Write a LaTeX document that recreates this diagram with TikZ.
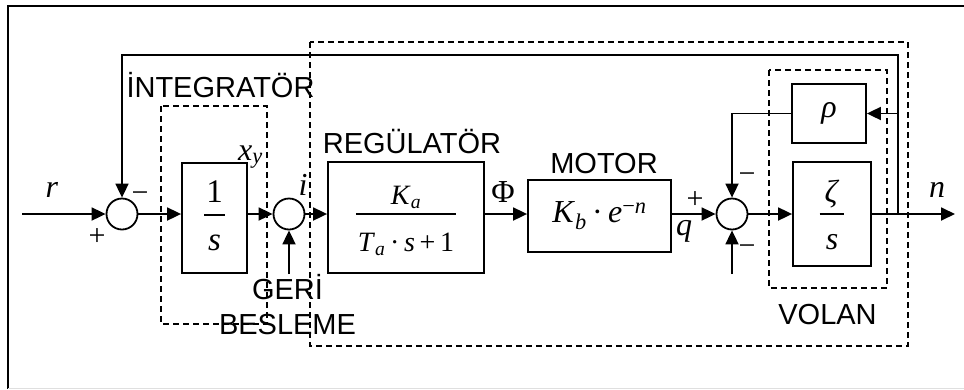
\documentclass[tikz,border=0pt]{standalone}
\usepackage{fontspec}
\setmainfont{Liberation Serif}
\newfontfamily\sansf{Liberation Sans}
\usetikzlibrary{arrows.meta}
\newcommand\vi[1]{\textit{#1}}
% #1 num, #2 den, #3 num height, #4 num depth, #5 den height, #6 den depth, #7 side pad
\newcommand\ffrac[7]{\begingroup\renewcommand\arraystretch{0.1}\setlength\arrayrulewidth{1.3pt}%
\begin{tabular}{@{\hspace{#7}}c@{\hspace{#7}}}\rule[-#4]{0pt}{\dimexpr#3+#4\relax}#1\\\hline\rule[-#6]{0pt}{\dimexpr#5+#6\relax}#2\end{tabular}\endgroup}
\tikzset{
  blk/.style={draw, line width=1.8pt, inner sep=0pt},
  sumc/.style={draw, circle, line width=1.8pt, minimum size=31pt, inner sep=0pt},
  arr/.style={line width=1.8pt, -{Triangle[length=14pt,width=13pt]}},
  ln/.style={line width=1.8pt},
  dsh/.style={line width=1.5pt, dash pattern=on 6pt off 4pt},
  lbl/.style={inner sep=0pt, anchor=base, font=\sansf\fontsize{29}{34}\selectfont},
  var/.style={inner sep=0pt, anchor=base, font=\fontsize{32}{38}\selectfont},
  sgn/.style={inner sep=0pt, font=\fontsize{30}{36}\selectfont},
}
\begin{document}
\begin{tikzpicture}[x=1pt,y=-1pt]
\useasboundingbox (0,0) rectangle (964,389);
% outer frame (partly cut)
\draw[line width=2.5pt] (964,6) -- (8,6) -- (8,389);
\draw[gray!25, line width=1pt] (8,388) -- (964,388);
% dashed groups
\draw[dsh] (161,106) rectangle (267,324);
\draw[dsh] (310,42) rectangle (908,346);
\draw[dsh] (769,70) rectangle (887,288);
% blocks
\node[blk, minimum width=65pt, minimum height=110pt] (b1) at (214.5,218)
  {\fontsize{33}{38}\selectfont\ffrac{1}{\vi{s}}{30pt}{12pt}{35pt}{13pt}{2pt}};
\node[blk, minimum width=156pt, minimum height=111pt] (reg) at (406,217.5)
  {\fontsize{28}{34}\selectfont\ffrac{\vi{K}\textsubscript{\vi{a}}}{\vi{T}\textsubscript{\vi{a}}\,·\,\vi{s}\,+\,1}{30pt}{9pt}{37pt}{9pt}{2pt}};
\node[blk, minimum width=143pt, minimum height=72pt] (motor) at (599.5,216)
  {\fontsize{32}{38}\selectfont\vi{K}\textsubscript{\vi{b}}\,·\,\vi{e}\textsuperscript{−\vi{n}}};
\node[blk, minimum width=74pt, minimum height=59pt] (rho) at (829,113.5)
  {\fontsize{32}{38}\selectfont\vi{ρ}};
\node[blk, minimum width=78pt, minimum height=104pt] (zeta) at (832,214)
  {\fontsize{32}{38}\selectfont\ffrac{\vi{ζ}}{\vi{s}}{31pt}{11pt}{35pt}{7pt}{5pt}};
% summing junctions
\node[sumc] (sum1) at (122,214) {};
\node[sumc] (sum2) at (289,214) {};
\node[sumc] (sum3) at (732,214) {};
% free ends
\coordinate (rin) at (22,214);
\coordinate (nout) at (955,214);
\coordinate (fbdown) at (898,214);
\coordinate (fbtop) at (898,55);
\coordinate (in2) at (289,274);
\coordinate (in3) at (732,274);
% connectors
\draw[arr] (rin) -- (sum1.west);
\draw[arr] (sum1.east) -- (sum1.east -| b1.west);
\draw[arr] (b1.east |- sum2) -- (sum2.west);
\draw[arr] (sum2.east) -- (sum2.east -| reg.west);
\draw[arr] (reg.east |- sum2) -- (motor.west |- sum2);
\draw[arr] (motor.east |- sum3) -- (sum3.west);
\draw[arr] (sum3.east) -- (sum3.east -| zeta.west);
\draw[arr] (zeta.east |- sum3) -- (nout);
\draw[arr] (fbdown) -- (fbtop) -- (sum1.north |- fbtop) -- (sum1.north);
\draw[arr] (fbtop |- rho.east) -- (rho.east);
\draw[arr] (rho.west) -| (sum3.north);
\draw[arr] (in3) -- (sum3.south);
\draw[arr] (in2) -- (sum2.south);
% labels
\node[lbl] (tint) at (220.5,97) {İNTEGRATÖR};
\node[lbl] (tgeri) at (287.5,299) {GERİ};
\node[lbl] (tbes) at (287.5,334) {BESLEME};
\node[lbl] (treg) at (412,153) {REGÜLATÖR};
\node[lbl] (tmot) at (604,173) {MOTOR};
\node[lbl] (tvol) at (827.5,324) {VOLAN};
% variables
\node[var] (vr) at (52,197) {\vi{r}};
\node[var, anchor=base west] (vx) at (238,160) {\vi{x}\textsubscript{\vi{y}}};
\node[var] (vi) at (303,195) {\vi{i}};
\node[var] (vphi) at (503,202) {Φ};
\node[var] (vq) at (684,235) {\vi{q}};
\node[var] (vn) at (937,197) {\vi{n}};
% signs
\node[sgn] (p1) at (97,237) {+};
\node[sgn] (m1) at (140,197) {−};
\node[sgn] (p3) at (695,200) {+};
\node[sgn] (m3a) at (747,178) {−};
\node[sgn] (m3b) at (747,250) {−};
\end{tikzpicture}
\end{document}
